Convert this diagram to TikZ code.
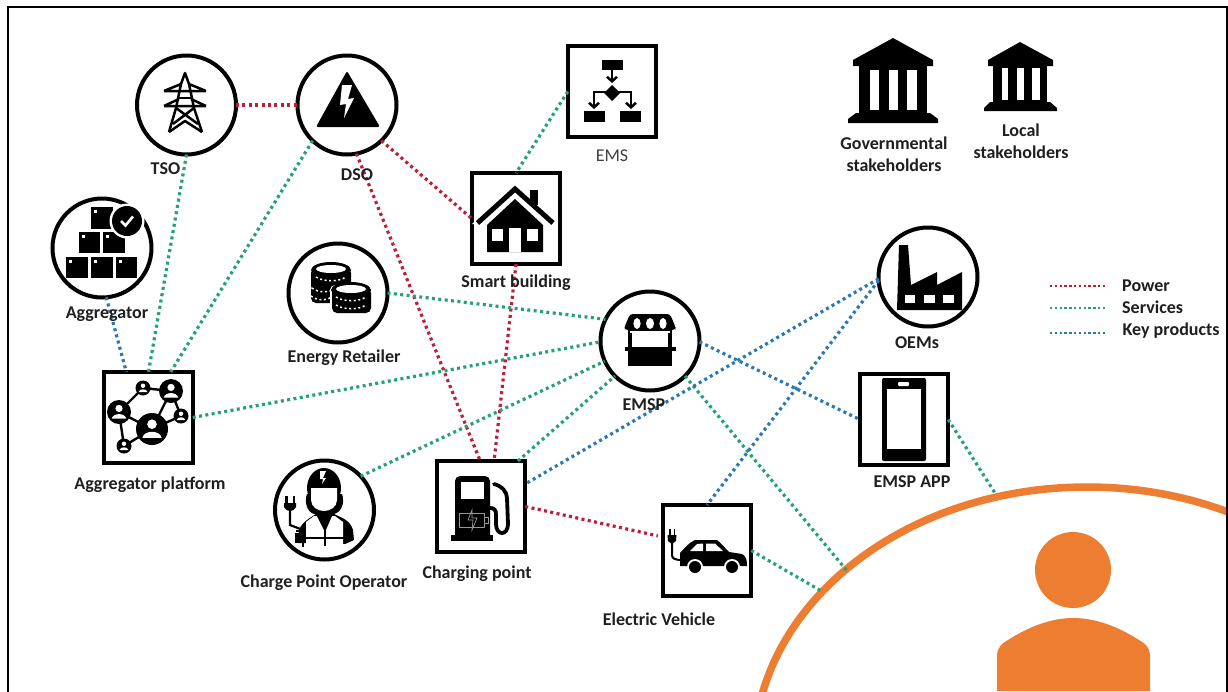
\documentclass[tikz,border=0pt]{standalone}
\usepackage{fontspec}
\setmainfont{Carlito}
\usetikzlibrary{arrows.meta,shapes.geometric}
\definecolor{lnR}{HTML}{BE1E3C}
\definecolor{lnG}{HTML}{25A275}
\definecolor{lnB}{HTML}{2A78B4}
\definecolor{orng}{HTML}{ED7D31}
\tikzset{
  circ/.style={draw=black,circle,line width=4pt,minimum size=99pt,inner sep=0pt,outer sep=0pt},
  sq/.style={draw=black,rectangle,line width=4pt,minimum width=88.5pt,minimum height=91pt,inner sep=0pt,outer sep=0pt},
  lbl/.style={font=\fontsize{18}{22}\selectfont\bfseries,text=black!88,align=center,inner sep=0pt},
  lnk/.style={line width=3.2pt,dash pattern=on 3pt off 3.4pt},
  linkR/.style={lnk,draw=lnR},
  linkG/.style={lnk,draw=lnG},
  linkB/.style={lnk,draw=lnB},
  legd/.style={line width=2.3pt,dash pattern=on 2.3pt off 2.5pt},
}
\newcommand{\crate}[4]{\fill[black] (#1,#2) rectangle (#3,#4); \fill[white] (#1+3,#2+3) rectangle (#1+6,#2+6);}
\newcommand{\netdot}[3]{%
  \fill[black] (#1,#2) circle[radius=#3 pt];
  \fill[white] (#1,#2-0.3*#3) circle[radius=0.3*#3 pt];
  \fill[white] (#1-0.6*#3,#2+0.55*#3) .. controls (#1-0.5*#3,#2+0.05*#3) and (#1+0.5*#3,#2+0.05*#3) .. (#1+0.6*#3,#2+0.55*#3) -- cycle;}
\newcommand{\coindots}[3]{\draw[white,line width=1.5pt,dash pattern=on 2pt off 2.6pt] (#1-#3,#2) .. controls (#1-#3/2,#2+5) and (#1+#3/2,#2+5) .. (#1+#3,#2);}
\begin{document}
\begin{tikzpicture}[x=1pt,y=-1pt]
\useasboundingbox (0,0) rectangle (1228,691);
\fill[white] (0,0) rectangle (1228,691);
% frame
\draw[black,line width=2pt] (7.5,692) -- (7.5,7) -- (1227,7) -- (1227,692);
% user
\begin{scope}
\clip (8,8) rectangle (1226,691);
\draw[orng,line width=7.5pt] (1087,753) ellipse [x radius=333pt,y radius=266pt];
\end{scope}
\fill[orng] (1073,570) circle[radius=38pt];
\fill[orng] (997,691) -- (997,655) .. controls (997,648) and (1002,643) .. (1008,640) .. controls (1030,626) and (1052,618) .. (1073,618) .. controls (1095,618) and (1117,626) .. (1139,640) .. controls (1145,643) and (1150,648) .. (1150,655) -- (1150,691) -- cycle;
\coordinate (u1) at (848,572);
\coordinate (u2) at (823,592);
\coordinate (u3) at (995,493);
% nodes
\node[circ] (tso) at (186.5,105) {};
\node[circ] (dso) at (347,105) {};
\node[circ] (agg) at (102,248) {};
\node[circ] (ret) at (338,293) {};
\node[circ] (emsp) at (650,341) {};
\node[circ] (oem) at (928,277) {};
\node[circ] (cpo) at (324.5,510) {};
\node[sq] (ems) at (612,91.5) {};
\node[sq] (smart) at (516,218.5) {};
\node[sq] (plat) at (148.5,417.5) {};
\node[sq] (chg) at (481,506.5) {};
\node[sq] (ev) at (707,550.5) {};
\node[sq] (app) at (904,419.5) {};
% connectors
\draw[linkR] (tso.east) -- (dso.west);
\draw[linkR] (dso.-46) -- (smart.west);
\draw[linkR] (dso.-79) -- (chg.91);
\draw[linkR] (smart.south) -- (chg.74.7);
\draw[linkR,shorten >=5pt] (chg.east) -- (ev.163.6);
\draw[linkG] (tso.-90) -- (plat.north);
\draw[linkG] (dso.226) -- (plat.64.7);
\draw[linkG] (ems.west) -- (smart.north);
\draw[linkG] (ret.east) -- (emsp.154.4);
\draw[linkG] (plat.east) -- (emsp.181);
\draw[linkG] (cpo.43) -- (emsp.204.6);
\draw[linkG] (chg.51.5) -- (emsp.225.7);
\draw[linkG] (emsp.-45) -- (u1);
\draw[linkG] (ev.east) -- (u2);
\draw[linkG] (app.east) -- (u3);
\draw[linkB] (agg.-85) -- (plat.116);
\draw[linkB] (oem.182) -- (chg.27.5);
\draw[linkB] (oem.184) -- (ev.north);
\draw[linkB] (emsp.-1) -- (app.west);
% TSO icon
\begin{scope}[black,line width=2.5pt,line join=round]
\draw (169,132) -- (176,108) -- (181,84) -- (185,73) -- (189,84) -- (194,108) -- (202,132);
\draw (164,91) -- (181,84) (189,84) -- (206,91) (164,91) -- (206,91);
\draw (164,106) -- (179,99) (191,99) -- (206,106) (164,106) -- (206,106);
\draw (179,98) -- (191,98);
\draw (176,108) -- (198,124) (194,108) -- (173,124);
\draw (169,132) -- (185,121) -- (202,132);
\end{scope}
% DSO icon
\fill[black,rounded corners=2pt] (347,71) -- (380,127) -- (316,127) -- cycle;
\fill[white] (342,85) -- (352,85) -- (348,99) -- (354,98) -- (344,118) -- (346,104) -- (340,105) -- cycle;
% Aggregator icon
\crate{91}{207}{113}{229}
\crate{79}{232}{100}{253}
\crate{103}{232}{125}{253}
\crate{66}{257}{88}{278}
\crate{91}{257}{113}{278}
\crate{116}{257}{137}{278}
\fill[white] (127,221) circle[radius=17.5pt];
\fill[black] (127,221) circle[radius=15pt];
\draw[white,line width=2.6pt] (121,221) -- (125.5,225.5) -- (133,216.5);
% Retailer icon
\fill[black,rounded corners=5pt] (311,268) rectangle (351,291);
\fill[black,rounded corners=5pt] (311,285) rectangle (345,303);
\fill[black] (331,270) ellipse[x radius=20pt,y radius=8pt];
\fill[white] (331,269) ellipse[x radius=15pt,y radius=4pt];
\coindots{331}{277}{15}
\coindots{324}{288}{12}
\coindots{322}{296}{11}
\fill[white,rounded corners=5pt] (330,285) rectangle (373,315);
\fill[black,rounded corners=5pt] (332,288) rectangle (371,313);
\fill[black] (351,290) ellipse[x radius=20pt,y radius=8pt];
\fill[white] (351,289) ellipse[x radius=15pt,y radius=4pt];
\coindots{351}{297}{15}
\coindots{351}{305}{15}
% House icon
\fill[black] (530,190) rectangle (538,212);
\fill[white] (515,183) -- (558,224) -- (472,224) -- cycle;
\fill[black] (530,190) rectangle (538,205);
\draw[black,line width=5pt,miter limit=10] (477.5,223) -- (515,189) -- (553,223);
\fill[black] (487,225) -- (515,199) -- (543,225) -- (543,252) -- (487,252) -- cycle;
\fill[white] (509,228) rectangle (521,252);
\fill[white] (492,229) rectangle (503,241);
\fill[white] (527,229) rectangle (538,241);
% EMS icon
\fill[black] (602,60) rectangle (623,70);
\fill[black] (584,111) rectangle (605,122);
\fill[black] (620,111) rectangle (641,122);
\fill[black] (612,85) -- (620,93) -- (612,101) -- (604,93) -- cycle;
\draw[black,line width=2.5pt,-{Straight Barb[length=4.5pt,width=10pt]}] (612,70) -- (612,83);
\draw[black,line width=2.5pt,-{Straight Barb[length=4.5pt,width=10pt]}] (606,92) -- (594,92) -- (594,109);
\draw[black,line width=2.5pt,-{Straight Barb[length=4.5pt,width=10pt]}] (618,92) -- (631,92) -- (631,109);
% Governmental icon
\fill[black] (893,38) -- (933,60) -- (933,66) -- (853,66) -- (853,60) -- cycle;
\fill[black] (859,66) rectangle (927,113);
\fill[white] (870,70) rectangle (879,110);
\fill[white] (889,70) rectangle (898,110);
\fill[white] (907,70) rectangle (917,110);
\fill[black] (856,113) -- (930,113) -- (938,119) -- (938,123) -- (848,123) -- (848,119) -- cycle;
% Local icon
\fill[black] (1020,42) -- (1053,60) -- (1053,66) -- (988,66) -- (988,60) -- cycle;
\fill[black] (993,66) rectangle (1047,102);
\fill[white] (1002,68) rectangle (1008,100);
\fill[white] (1017,68) rectangle (1024,100);
\fill[white] (1032,68) rectangle (1040,100);
\fill[black] (990,102) -- (1050,102) -- (1057,108) -- (1057,111) -- (984,111) -- (984,108) -- cycle;
% Factory icon
\fill[black] (899,245) -- (908,245) -- (911,285) -- (937,272) -- (937,285) -- (962,272) -- (962,310) -- (897,310) -- cycle;
\fill[white] (905,295) rectangle (915,303);
\fill[white] (924,295) rectangle (935,303);
\fill[white] (943,295) rectangle (954,303);
% Market icon
\fill[black] (628,325) rectangle (672,366);
\fill[white] (632,333) rectangle (668,347);
\fill[black] (624.5,347) rectangle (675.5,351);
\fill[black,rounded corners=3pt] (630,314) -- (670,314) -- (675.5,327) -- (675.5,330) -- (624.5,330) -- (624.5,327) -- cycle;
\fill[white] (637,323.5) ellipse[x radius=3.6pt,y radius=5.5pt];
\fill[white] (650,323.5) ellipse[x radius=4pt,y radius=5.5pt];
\fill[white] (663,323.5) ellipse[x radius=3.6pt,y radius=5.5pt];
\fill[white] (630,331) rectangle (670,333);
% Platform icon
\draw[black,line width=2.4pt] (119,412) -- (143,388) -- (171,391) -- (152,429) -- (181,416) -- (171,391);
\draw[black,line width=2.4pt] (119,412) -- (152,429) -- (124,446) -- cycle;
\netdot{152}{429}{16}
\netdot{119}{412}{12}
\netdot{171}{391}{12}
\netdot{143}{388}{7.5}
\netdot{181}{416}{7.5}
\netdot{124}{446}{7.5}
% Worker icon
\fill[black] (324,488) ellipse[x radius=17pt,y radius=20pt];
\fill[black] (307,494) .. controls (304,502) and (307,512) .. (314,514) -- (334,514) .. controls (342,512) and (345,502) .. (342,494) -- cycle;
\fill[black] (298,543) -- (299,530) .. controls (302,522) and (310,518) .. (316,514) -- (334,514) .. controls (342,518) and (350,520) .. (353,530) -- (354,540) -- (345,544) -- cycle;
\fill[white] (311,488) -- (337,488) -- (337,500) .. controls (337,507) and (330,511) .. (324,511) .. controls (318,511) and (311,507) .. (311,500) -- cycle;
\fill[white] (314,516) -- (335,516) -- (343,522) -- (343,546) -- (306,546) -- (306,522) -- cycle;
\fill[black] (317,516) -- (332,516) -- (325,532) -- cycle;
\draw[black,line width=2pt] (324.5,530) -- (324.5,546) (306,538) -- (344,538);
\fill[white] (320,471) -- (326,471) -- (323,478) -- (326,478) -- (322,484) -- (323,479) -- (320,479) -- cycle;
\fill[black] (285,496) rectangle (287.5,503);
\fill[black] (292.5,496) rectangle (295,503);
\fill[black] (284,503) -- (296,503) -- (296,507) .. controls (295,510) and (292,511) .. (290,511) .. controls (288,511) and (285,510) .. (284,507) -- cycle;
\draw[black,line width=2.2pt] (290,510) -- (290,525) -- (303,530);
\draw[black,line width=2.2pt] (296,531) -- (303,531) -- (303,547);
\fill[black] (295,533) rectangle (299,543);
% Charging icon
\fill[black,rounded corners=5pt] (455,476) rectangle (490,545);
\fill[white] (461,482) rectangle (484,499);
\fill[black] (451,535) rectangle (493,541);
\fill[white] (451,541) rectangle (493,546);
\draw[black,line width=3.8pt,line cap=round] (494,484) .. controls (502,486) and (507,492) .. (507,498) -- (508,524) .. controls (508,536) and (496,536) .. (496,524) -- (496,514) .. controls (496,510) and (494,508) .. (490,508);
\draw[black!40,line width=0.7pt] (459,513) rectangle (484,527);
\draw[black!40,line width=0.7pt] (484,517) rectangle (488,523);
\draw[black!40,line width=0.7pt] (472,510) -- (468,520) -- (473,520) -- (472,530) -- (477,518) -- (472,518) -- cycle;
% EV icon
\fill[black] (669,529) rectangle (670.5,536);
\fill[black] (673.5,529) rectangle (675,536);
\fill[black] (667.5,535) -- (676.5,535) -- (676,541) -- (672,544) -- (668,541) -- cycle;
\draw[black,line width=2pt] (672,543) -- (672,555) .. controls (672,558) and (674,560) .. (682,560);
\fill[black] (680,553) .. controls (684,549) and (688,543) .. (695,540) -- (717,540) .. controls (721,543) and (725,548) .. (729,552) -- (742,554) .. controls (746,556) and (747,560) .. (747,566) -- (680,566) -- cycle;
\fill[white] (690,551) -- (697,544) -- (703,543.5) -- (703,551) -- cycle;
\fill[white] (706,543.5) -- (715,543.5) -- (723,551) -- (706,551) -- cycle;
\fill[white] (695,567) circle[radius=8pt];
\fill[white] (732,567) circle[radius=8pt];
\fill[black] (695,567) circle[radius=6pt];
\fill[black] (732,567) circle[radius=6pt];
% Phone icon
\fill[black,rounded corners=2pt] (882,378) rectangle (926,461);
\fill[white] (887,389) rectangle (921,449);
\fill[white,rounded corners=1pt] (898,382) rectangle (909,386);
% labels
\node[lbl] (ltso) at (165.5,169) {TSO};
\node[lbl] (ldso) at (357,175) {DSO};
\node[lbl] (lagg) at (107,314) {Aggregator};
\node[lbl] (lplat) at (150,485) {Aggregator platform};
\node[lbl] (lret) at (344,358) {Energy Retailer};
\node[lbl] (lsmart) at (516,283) {Smart building};
\node[lbl] (lemsp) at (644,405) {EMSP};
\node[lbl,font=\fontsize{18}{22}\selectfont,text=black!75] (lems) at (612,156) {EMS};
\node[lbl] (lgov) at (894,154) {Governmental\\stakeholders};
\node[lbl] (lloc) at (1021,141) {Local\\stakeholders};
\node[lbl] (loem) at (917,343) {OEMs};
\node[lbl] (lapp) at (912,482) {EMSP APP};
\node[lbl] (lev) at (659,619) {Electric Vehicle};
\node[lbl] (lchg) at (477,574) {Charging point};
\node[lbl] (lcpo) at (324,583) {Charge Point Operator};
% legend
\coordinate (ra) at (1050,286); \coordinate (rb) at (1105,286);
\coordinate (ga) at (1050,308); \coordinate (gb) at (1105,308);
\coordinate (ba) at (1050,333); \coordinate (bb) at (1105,333);
\draw[legd,draw=lnR] (ra) -- (rb);
\draw[legd,draw=lnG] (ga) -- (gb);
\draw[legd,draw=lnB] (ba) -- (bb);
\node[lbl,anchor=west] (lp) at (1122,286) {Power};
\node[lbl,anchor=west] (ls) at (1122,307) {Services};
\node[lbl,anchor=west] (lk) at (1122.5,331) {Key products};
\end{tikzpicture}
\end{document}
